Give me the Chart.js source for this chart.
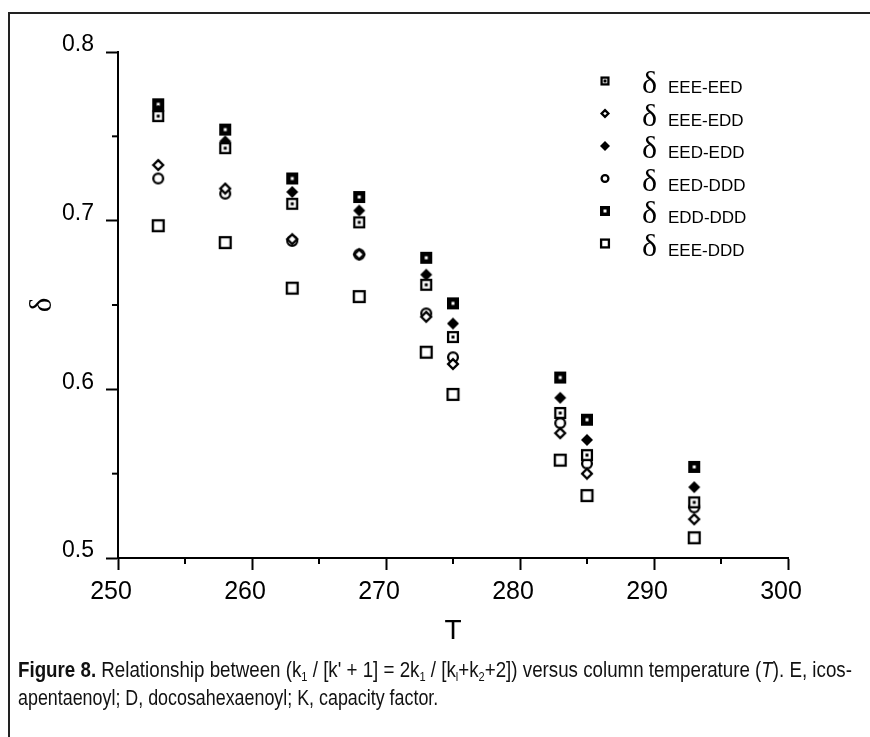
<!DOCTYPE html>
<html>
<head>
<meta charset="utf-8">
<script src="https://cdn.jsdelivr.net/npm/chart.js@4"></script>
<style>
  body { margin: 0; background: #fff; width: 870px; height: 737px; overflow: hidden; position: relative; }
  #frame { position: absolute; left: 8px; top: 12px; width: 900px; height: 800px; border: 2px solid #222; }
  #chart { position: absolute; left: 0; top: 0; }
  #caption { position: absolute; left: 18px; top: 656px; font-family: 'Liberation Sans Narrow', 'Liberation Sans', sans-serif;
             font-size: 22px; line-height: 28px; color: #111; white-space: nowrap; }
  #caption div { transform-origin: 0 0; width: max-content; }
  #caption b { font-weight: bold; }
  sub { font-size: 13px; vertical-align: -4px; line-height: 0; }
</style>
</head>
<body>
<div id="frame"></div>
<canvas id="chart" width="870" height="660"></canvas>
<div id="caption">
  <div id="line1"><b>Figure 8.</b> Relationship between (k<sub>1</sub> / [k' + 1] = 2k<sub>1</sub> / [k<sub>l</sub>+k<sub>2</sub>+2]) versus column temperature (<i>T</i>). E, icos-</div>
  <div id="line2">apentaenoyl; D, docosahexaenoyl; K, capacity factor.</div>
</div>
<script>
// column temperature
const temps = [253, 258, 263, 268, 273, 275, 283, 285, 293];

// delta values per pair
const eeeEed = [0.762, 0.743, 0.710, 0.699, 0.662, 0.631, 0.586, 0.561, 0.533];
const eeeEdd = [0.733, 0.719, 0.689, 0.680, 0.643, 0.615, 0.574, 0.550, 0.523];
const eedEdd = [0.765, 0.747, 0.717, 0.706, 0.668, 0.639, 0.595, 0.570, 0.542];
const eedDdd = [0.725, 0.716, 0.688, 0.680, 0.645, 0.619, 0.580, 0.556, 0.530];
const eddDdd = [0.769, 0.754, 0.725, 0.714, 0.678, 0.651, 0.607, 0.582, 0.554];
const eeeDdd = [0.697, 0.687, 0.660, 0.655, 0.622, 0.597, 0.558, 0.537, 0.512];

const seriesNames = ['EEE-EED', 'EEE-EDD', 'EED-EDD', 'EED-DDD', 'EDD-DDD', 'EEE-DDD'];
const seriesValues = [eeeEed, eeeEdd, eedEdd, eedDdd, eddDdd, eeeDdd];
const markerKinds = ['sqDot', 'diaOpen', 'diaFill', 'circOpen', 'sqFill', 'sqOpen'];

const xTicks = [250, 260, 270, 280, 290, 300];
const yTicks = [0.5, 0.6, 0.7, 0.8];

function drawMarker(ctx, kind, cx, cy, s) {
  const h = s / 2;
  ctx.save();
  ctx.lineWidth = 2.3;
  ctx.strokeStyle = '#000';
  if (kind === 'sqDot' || kind === 'sqOpen') {
    ctx.fillStyle = '#fff';
    ctx.fillRect(cx - h, cy - h, s, s);
    ctx.strokeRect(cx - h + 1.1, cy - h + 1.1, s - 2.2, s - 2.2);
    if (kind === 'sqDot') {
      ctx.fillStyle = '#000';
      ctx.fillRect(cx - 1.5, cy - 1.5, 3, 3);
    }
  } else if (kind === 'sqFill') {
    ctx.fillStyle = '#000';
    ctx.fillRect(cx - h, cy - h, s, s);
    ctx.fillStyle = '#fff';
    ctx.fillRect(cx - 1.5, cy - 1.5, 3, 3);
  } else if (kind === 'diaOpen' || kind === 'diaFill') {
    const r = h - (kind === 'diaOpen' ? 1.1 : 0);
    ctx.beginPath();
    ctx.moveTo(cx, cy - r);
    ctx.lineTo(cx + r, cy);
    ctx.lineTo(cx, cy + r);
    ctx.lineTo(cx - r, cy);
    ctx.closePath();
    if (kind === 'diaFill') {
      ctx.fillStyle = '#000';
      ctx.fill();
    } else {
      ctx.fillStyle = '#fff';
      ctx.fill();
      ctx.stroke();
    }
  } else if (kind === 'circOpen') {
    ctx.beginPath();
    ctx.arc(cx, cy, h - 1.1, 0, Math.PI * 2);
    ctx.fillStyle = '#fff';
    ctx.fill();
    ctx.stroke();
  }
  ctx.restore();
}

function markerImage(kind, s) {
  const c = document.createElement('canvas');
  c.width = s + 2;
  c.height = s + 2;
  drawMarker(c.getContext('2d'), kind, (s + 2) / 2, (s + 2) / 2, s);
  return c;
}

const plotSizes = [12, 12, 12, 12, 12, 13];
const legendSizes = [9, 9, 10, 9, 10, 10];

const isTen = (v) => Math.abs(v / 10 - Math.round(v / 10)) < 1e-6;
const isTenth = (v) => Math.abs(v * 10 - Math.round(v * 10)) < 1e-6;

// short minor ticks and the legend in the upper right corner
const extrasPlugin = {
  id: 'extras',
  afterDraw(chart) {
    const ctx = chart.ctx;
    const area = chart.chartArea;
    const xs = chart.scales.x;
    const ys = chart.scales.y;
    ctx.save();
    ctx.strokeStyle = '#000';
    ctx.lineWidth = 2;
    xs.ticks.forEach((t) => {
      if (isTen(t.value)) return;
      const px = xs.getPixelForValue(t.value);
      ctx.beginPath();
      ctx.moveTo(px, area.bottom);
      ctx.lineTo(px, area.bottom + 6);
      ctx.stroke();
    });
    ys.ticks.forEach((t) => {
      if (isTenth(t.value)) return;
      const py = ys.getPixelForValue(t.value);
      ctx.beginPath();
      ctx.moveTo(area.left, py);
      ctx.lineTo(area.left - 6, py);
      ctx.stroke();
    });

    seriesNames.forEach((name, i) => {
      const y = 81 + i * 32.5;
      drawMarker(ctx, markerKinds[i], 605, y, legendSizes[i]);
      ctx.fillStyle = '#000';
      ctx.textBaseline = 'alphabetic';
      ctx.textAlign = 'left';
      ctx.font = '32px "Liberation Serif"';
      ctx.fillText('δ', 642, y + 12);
      ctx.font = '17px "Liberation Sans"';
      ctx.fillText(name, 668, y + 12);
    });
    ctx.restore();
  }
};

Chart.defaults.color = '#000';
Chart.defaults.font.family = '"Liberation Sans", Arial, sans-serif';

new Chart(document.getElementById('chart'), {
  type: 'scatter',
  data: {
    datasets: seriesNames.map((name, i) => ({
      label: name,
      data: temps.map((t, j) => ({ x: t, y: seriesValues[i][j] })),
      pointStyle: markerImage(markerKinds[i], plotSizes[i]),
      pointRadius: 6,
      showLine: false,
    })),
  },
  options: {
    responsive: false,
    animation: false,
    layout: { padding: { left: 0, top: 52, right: 82, bottom: 12 } },
    plugins: {
      legend: { display: false },
      tooltip: { enabled: false },
    },
    scales: {
      x: {
        type: 'linear',
        min: xTicks[0],
        max: xTicks[xTicks.length - 1],
        afterFit: (scale) => { scale.height = 90; },
        border: { color: '#000', width: 2 },
        grid: {
          drawOnChartArea: false,
          tickLength: 12,
          tickWidth: 2,
          tickColor: (c) => (c.tick && isTen(c.tick.value) ? '#000' : 'rgba(0,0,0,0)'),
        },
        ticks: {
          stepSize: 5,
          autoSkip: false,
          maxRotation: 0,
          padding: 7,
          labelOffset: -7,
          font: { size: 25 },
          callback: (v) => (xTicks.includes(v) ? String(v) : ''),
        },
        title: { display: true, text: 'T', font: { size: 28 }, padding: { top: 0, bottom: 0 } },
      },
      y: {
        type: 'linear',
        min: yTicks[0],
        max: yTicks[yTicks.length - 1],
        afterFit: (scale) => { scale.width = 118; },
        border: { color: '#000', width: 2 },
        grid: {
          drawOnChartArea: false,
          tickLength: 12,
          tickWidth: 2,
          tickColor: (c) => (c.tick && isTenth(c.tick.value) ? '#000' : 'rgba(0,0,0,0)'),
        },
        ticks: {
          stepSize: 0.05,
          autoSkip: false,
          padding: 12,
          labelOffset: -7,
          font: { size: 23 },
          callback: (v) => (isTenth(v) ? v.toFixed(1) : ''),
        },
        title: { display: true, text: 'δ', font: { size: 31, family: '"Liberation Serif"' }, padding: { top: 24, bottom: 0 } },
      },
    },
  },
  plugins: [extrasPlugin],
});

// squeeze each caption line to the widths of the printed page
function fitLine(id, target) {
  const el = document.getElementById(id);
  el.style.transform = 'scaleX(' + (target / el.scrollWidth) + ')';
}
fitLine('line1', 834);
fitLine('line2', 420);
</script>
</body>
</html>
